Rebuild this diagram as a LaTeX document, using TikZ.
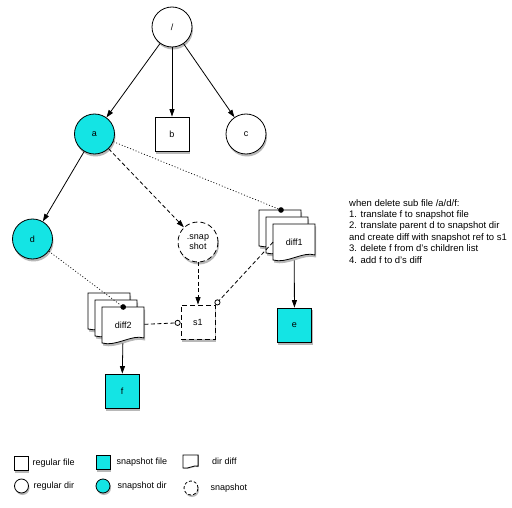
\documentclass[tikz,border=0pt]{standalone}
\usepackage{fontspec}
\setmainfont{Liberation Sans}
\usepackage{xcolor}
\usetikzlibrary{arrows.meta,positioning,backgrounds,calc}
\definecolor{snapcyan}{RGB}{20,228,228}
\pgfdeclarelayer{paper}
\pgfsetlayers{paper,background,main}

\tikzset{
  nodeshadow/.style={fill=black!28},
  dirnode/.style={circle,draw,line width=0.8pt,fill=white,minimum size=40pt,inner sep=0pt},
  filenode/.style={rectangle,draw,line width=0.8pt,fill=white,minimum size=34pt,inner sep=0pt},
  snapped/.style={fill=snapcyan},
  snapnode/.style={circle,draw,line width=0.8pt,dash pattern=on 5pt off 3pt,fill=white,minimum size=40pt,inner sep=0pt,align=center},
  sheet/.style={draw,line width=0.8pt,fill=white},
  sheetnode/.style={rectangle,minimum width=42pt,minimum height=36pt,inner sep=0pt},
  tree/.style={->,line width=0.8pt},
  snaplink/.style={line width=0.8pt,dash pattern=on 4pt off 2.5pt},
  difflink/.style={line width=0.7pt,dash pattern=on 1pt off 2pt,-{Circle[length=5.5pt]},shorten >=-2.75pt},
  keytext/.style={inner sep=0pt,anchor=west},
}

% one page of a dir diff (with its shadow), top left corner given
\newcommand{\pagesheet}[1]{%
  \coordinate (pg) at #1;
  \fill[nodeshadow] ($(pg)+(1,2.5)$) -- ++(42,0) -- ++(0,31) .. controls +(-12,-4) and +(14,4) .. ++(-42,5) -- cycle;
  \filldraw[sheet] (pg) -- ++(42,0) -- ++(0,31) .. controls +(-12,-4) and +(14,4) .. ++(-42,5) -- cycle;}

\begin{document}
\begin{tikzpicture}[x=1pt,y=-1pt,>={Triangle[length=7.5pt,width=5pt]},
  every node/.style={font=\fontsize{9}{10}\selectfont}]
\begin{pgfonlayer}{paper}
\fill[white] (0,0) rectangle (512,508);
\end{pgfonlayer}
\useasboundingbox (0,0) rectangle (512,508);

% tree
\node[dirnode] (root) at (172,27) {/};
\node[dirnode,snapped] (a) at (94.5,134) {a};
\node[filenode] (b) at (172,134) {b};
\node[dirnode] (c) at (246,134) {c};
\node[dirnode,snapped] (d) at (32.5,239) {d};
\node[snapnode] (snap) at (198,242) {.snap\\shot};
\node[filenode,dash pattern=on 5pt off 3pt] (s1) at (198,322) {s1};
\node[filenode,snapped] (e) at (294.5,325) {e};
\node[filenode,snapped] (f) at (122,391) {f};

% diff stacks
\coordinate (d1top) at (273,224);
\pagesheet{($(d1top)+(-14,-14)$)}
\pagesheet{($(d1top)+(-7,-7)$)}
\pagesheet{(d1top)}
\node[sheetnode,anchor=north west] (diff1) at (d1top) {diff1};
\coordinate (diff1dot) at ($(diff1.north west)+(8,-14)$);

\coordinate (d2top) at (102,307);
\pagesheet{($(d2top)+(-14,-14)$)}
\pagesheet{($(d2top)+(-7,-7)$)}
\pagesheet{(d2top)}
\node[sheetnode,anchor=north west] (diff2) at (d2top) {diff2};

\draw[tree] (root) -- (a);
\draw[tree] (root) -- (b);
\draw[tree] (root) -- (c);
\draw[tree] (a) -- (d);
\draw[snaplink,->] (a) -- (snap);
\draw[snaplink,->] (snap) -- (s1);
\draw[tree] (diff1) -- (e);
\draw[tree] (diff2) -- (f);
\draw[snaplink,-{Circle[fill=white,length=6pt]}] (diff2) -- (s1);
\draw[snaplink,-{Circle[fill=white,length=6pt]}] (diff1.west) -- (s1.north east);
\draw[difflink] (a) -- (diff1dot);
\draw[difflink] (d) -- (diff2.north);

\node[align=left,anchor=north west,inner sep=0pt,font=\fontsize{9.5}{11.4}\selectfont] (steps) at (349,199)
  {when delete sub file /a/d/f:\\1. translate f to snapshot file\\2. translate parent d to snapshot dir\\and create diff with snapshot ref to s1\\3. delete f from d's children list\\4. add f to d's diff};

% legend
\node[filenode,minimum size=14pt] (keyfile) at (21,463) {};
\node[keytext,right=4pt of keyfile] (keyfiletext) {regular file};
\node[dirnode,minimum size=14pt] (keydir) at (21.5,486) {};
\node[keytext,right=4.5pt of keydir] (keydirtext) {regular dir};
\node[filenode,snapped,minimum size=14pt] (keysnapfile) at (103,462) {};
\node[keytext,right=6pt of keysnapfile] (keysnapfiletext) {snapshot file};
\node[dirnode,snapped,minimum size=14pt] (keysnapdir) at (103,486) {};
\node[keytext,right=7pt of keysnapdir] (keysnapdirtext) {snapshot dir};
\coordinate (keysheet) at (183,455);
\begin{scope}[shift={(keysheet)},scale=0.36]
  \pagesheet{(0,0)}
\end{scope}
\node[keytext] (keysheettext) at (212,461) {dir diff};
\node[snapnode,minimum size=14pt,dash pattern=on 3pt off 2pt] (keysnap) at (191,488) {};
\node[keytext,right=12pt of keysnap] (keysnaptext) {snapshot};

% shadows
\begin{pgfonlayer}{background}
\foreach \n in {root,a,c,d,snap}
  \fill[nodeshadow] ($(\n)+(1,2.5)$) circle (20);
\foreach \n in {keydir,keysnapdir,keysnap}
  \fill[nodeshadow] ($(\n)+(1,2)$) circle (7);
\foreach \n in {b,s1,e,f,keyfile,keysnapfile}
  \fill[nodeshadow] ($(\n.south west)+(1,2.5)$) rectangle ($(\n.north east)+(1,2.5)$);
\end{pgfonlayer}
\end{tikzpicture}
\end{document}
